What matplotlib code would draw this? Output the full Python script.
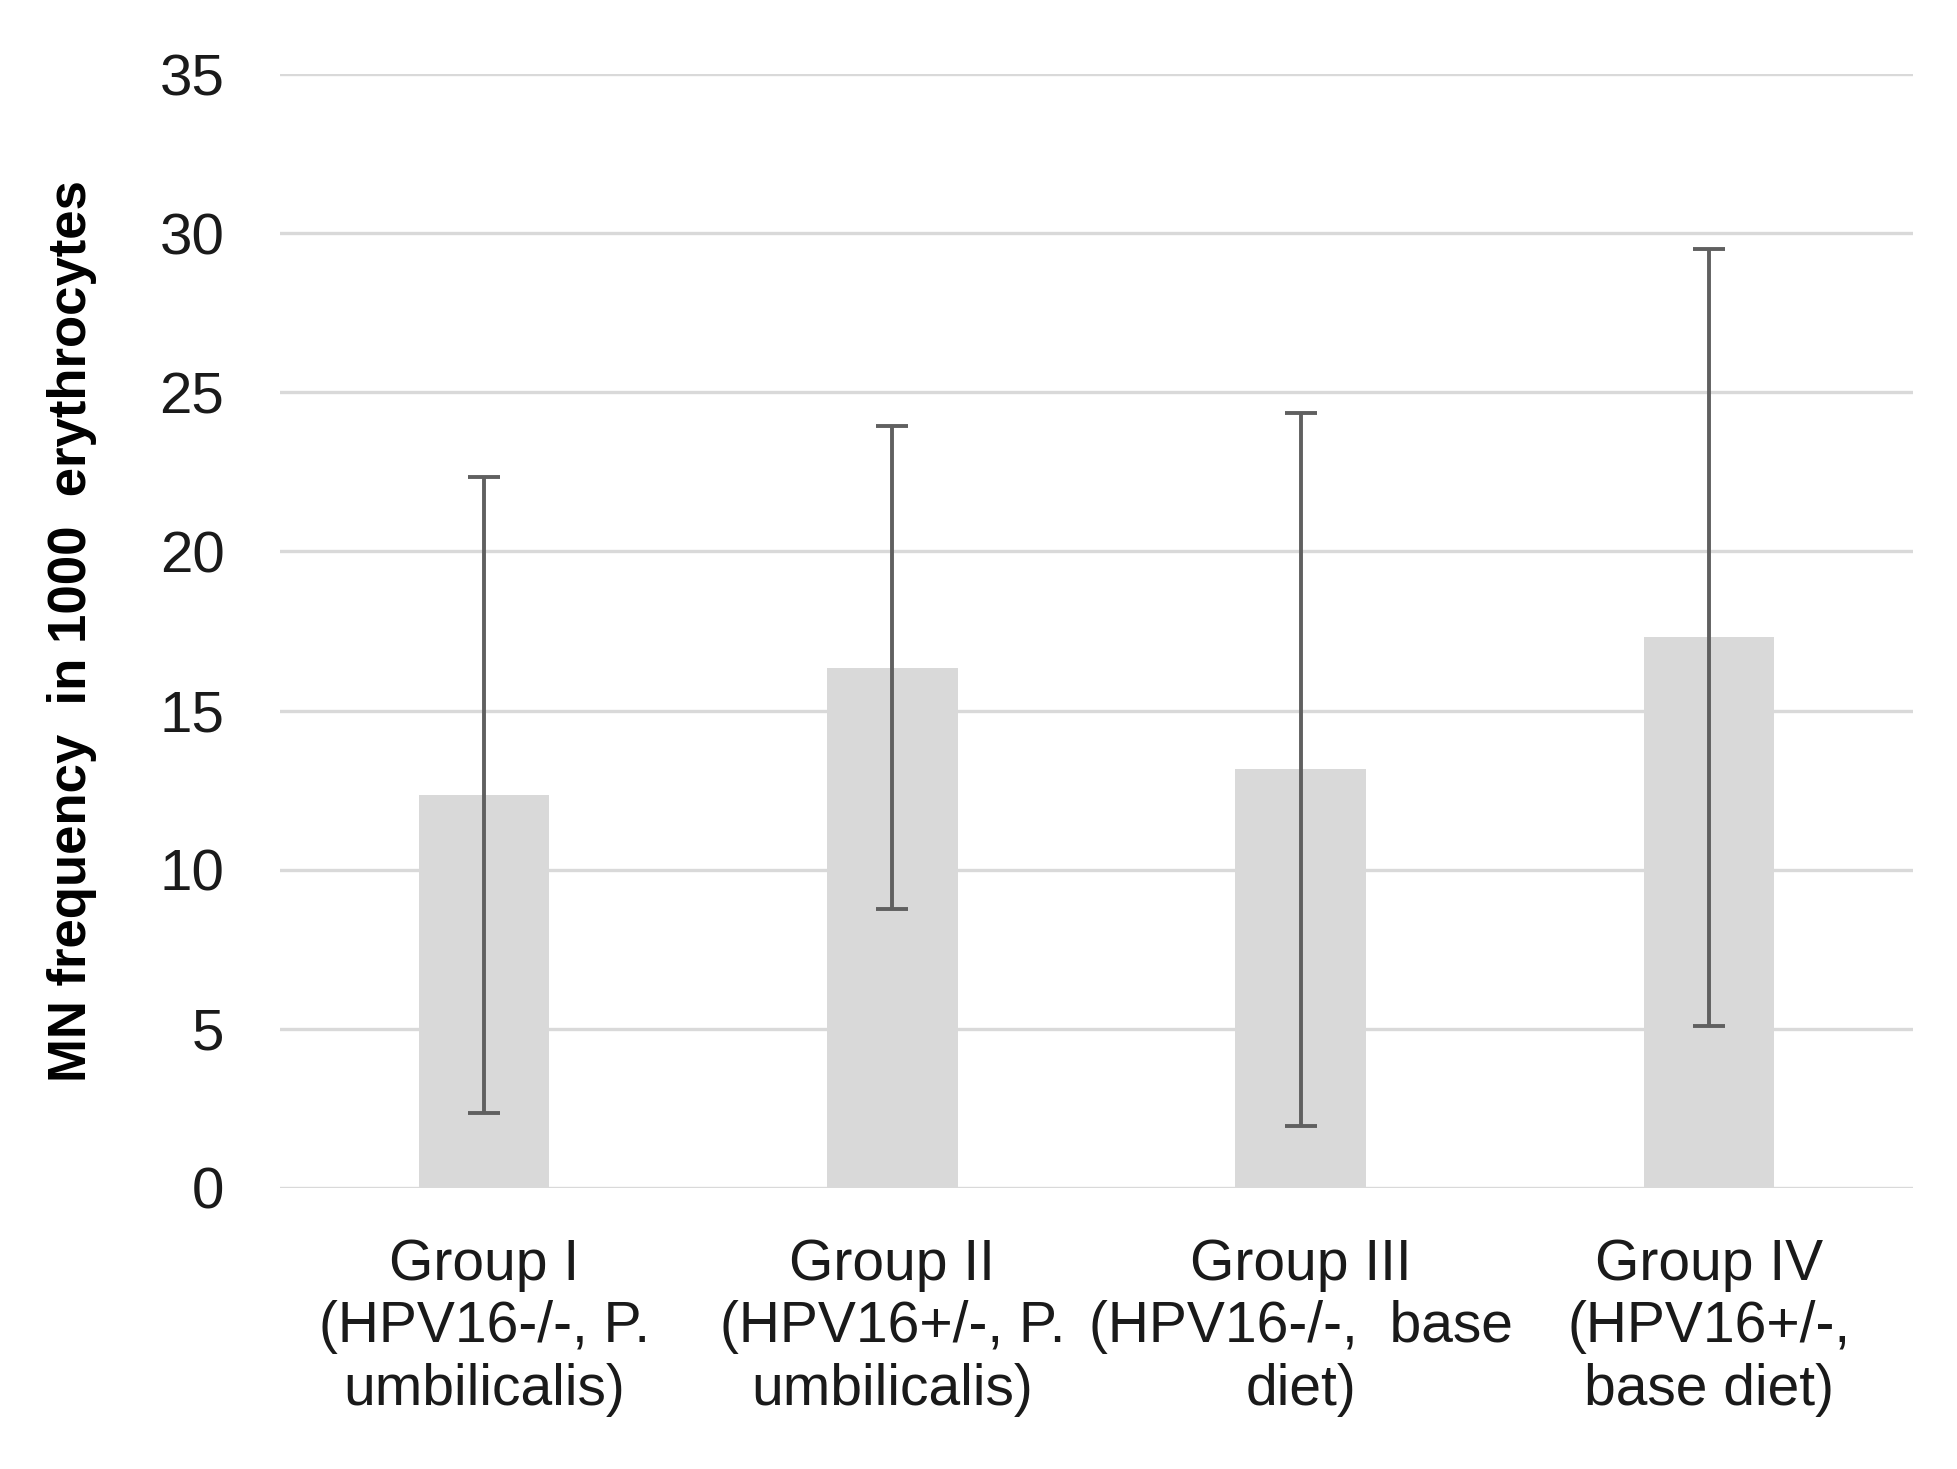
import matplotlib
matplotlib.use('Agg')
import matplotlib.pyplot as plt
import numpy as np

# MN frequency per group (mean +/- SD)
groups = ['Group I\n(HPV16-/-, P.\numbilicalis)',
          'Group II\n(HPV16+/-, P.\numbilicalis)',
          'Group III\n(HPV16-/-,  base\ndiet)',
          'Group IV\n(HPV16+/-,\nbase diet)']
means = [12.35, 16.35, 13.15, 17.3]
sds = [10.0, 7.6, 11.2, 12.2]
yticks = [0, 5, 10, 15, 20, 25, 30, 35]

plt.rcParams['font.family'] = ['Liberation Sans Narrow', 'Liberation Sans', 'DejaVu Sans']

fig = plt.figure(figsize=(19.58, 14.69), dpi=100)
ax = fig.add_axes([0.143, 0.1913, 0.834, 0.7583])

x = np.arange(len(groups))
ax.bar(x, means, width=0.32, color='#d9d9d9', zorder=2)
ax.errorbar(x, means, yerr=sds, fmt='none', ecolor='#606060', elinewidth=2.8,
            capsize=11.5, capthick=2.8, zorder=3)

ax.set_xlim(-0.5, len(groups) - 0.5)
ax.set_ylim(0, 35)
ax.set_yticks(yticks)
ax.set_yticklabels([str(t) for t in yticks], fontsize=42, color='#1a1a1a')
ax.set_xticks(x)
ax.set_xticklabels(groups, fontsize=41, color='#1a1a1a', linespacing=1.2)
ax.tick_params(axis='both', length=0)
ax.tick_params(axis='y', pad=40)
ax.tick_params(axis='x', pad=36)

ax.yaxis.grid(True, color='#d9d9d9', linewidth=2.4, zorder=0)
ax.set_axisbelow(True)
for s in ax.spines.values():
    s.set_visible(False)

ax.set_ylabel('MN frequency  in 1000  erythrocytes', fontsize=38, fontweight='bold',
              color='black')
ax.yaxis.set_label_coords(-0.112, 0.5)

fig.savefig('out.png', dpi=100, facecolor='white')
